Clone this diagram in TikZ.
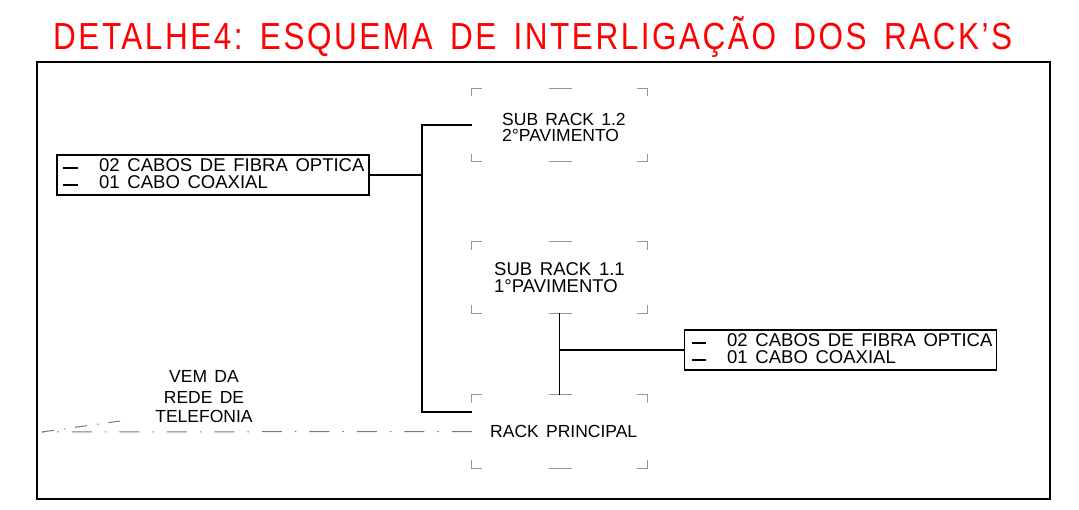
\documentclass[tikz,border=0pt]{standalone}
\usepackage{fontspec}
\setmainfont{Liberation Sans}[WordSpace=1.5]
\usetikzlibrary{calc}
\definecolor{cadred}{RGB}{255,0,0}
\definecolor{brk}{RGB}{150,150,150}
\definecolor{dd}{RGB}{120,120,120}
\tikzset{
  frame/.style={draw=black,line width=1.6pt},
  wire/.style={draw=black,line width=1.6pt},
  cablebox/.style={draw=black,line width=1.4pt,minimum width=312pt,minimum height=40pt,inner sep=0pt},
  rackbox/.style={draw=none,minimum width=175pt,minimum height=73pt,inner sep=0pt},
  brack/.style={draw=brk,line width=1.1pt},
  cadtxt/.style={inner sep=0pt,font=\fontsize{18.5}{19}\selectfont},
  dashdot/.style={draw=dd,line width=1pt,dash pattern=on 20pt off 13pt on 1.5pt off 13pt},
}
\newcommand{\cadbrackets}[1]{%
  \draw[brack] ($(#1.north west)+(0,8)$) -- (#1.north west) -- ++(10,0);
  \draw[brack] ($(#1.north east)+(0,8)$) -- (#1.north east) -- ++(-10,0);
  \draw[brack] ($(#1.south west)+(0,-8)$) -- (#1.south west) -- ++(10,0);
  \draw[brack] ($(#1.south east)+(0,-8)$) -- (#1.south east) -- ++(-10,0);
  \draw[brack] ($(#1.north)+(-11,0)$) -- ++(23,0);
  \draw[brack] ($(#1.south)+(-11,0)$) -- ++(23,0);
}
\newcommand{\wsp}{\hspace{0.55em}}
\begin{document}
\begin{tikzpicture}[x=1pt,y=-1pt]
\useasboundingbox (0,0) rectangle (1079,510);
% title
\node[anchor=base west,inner sep=0pt,text=cadred] (title) at (53,50)
  {\resizebox{959pt}{\height}{\fontsize{37.7}{38}\selectfont\addfontfeature{LetterSpace=8}DETALHE4:\wsp ESQUEMA\wsp DE\wsp INTERLIGAÇÃO\wsp DOS\wsp RACK’S}};
% frame
\draw[frame] (37,62) rectangle (1050,499);
% cable boxes
\node[cablebox] (lbox) at (213,175) {};
\node[cablebox] (rbox) at (840.5,350) {};
\draw[wire,line width=1.3pt] (63,168) -- (78,168);
\draw[wire,line width=1.3pt] (63,185) -- (78,185);
\node[cadtxt,anchor=base west] (l1) at (99,172) {02 CABOS DE FIBRA OPTICA};
\node[cadtxt,anchor=base west] (l2) at (99,189) {01 CABO COAXIAL};
\draw[wire,line width=1.3pt] (692,343) -- (706,343);
\draw[wire,line width=1.3pt] (692,360) -- (706,360);
\node[cadtxt,anchor=base west] (r1) at (727,347) {02 CABOS DE FIBRA OPTICA};
\node[cadtxt,anchor=base west] (r2) at (727,364) {01 CABO COAXIAL};
% racks
\node[rackbox] (rk12) at (559.5,125) {};
\node[rackbox,minimum height=71pt] (rk11) at (559.5,277.5) {};
\node[rackbox] (rkp) at (559.5,431.5) {};
\cadbrackets{rk12}
\cadbrackets{rk11}
\cadbrackets{rkp}
\node[cadtxt,anchor=base west,font=\fontsize{17.5}{18}\selectfont] (t12a) at (502,126) {SUB RACK 1.2};
\node[cadtxt,anchor=base west,font=\fontsize{17.5}{18}\selectfont] (t12b) at (502,141.5) {2°PAVIMENTO};
\node[cadtxt,anchor=base west] (t11a) at (494,276) {SUB RACK 1.1};
\node[cadtxt,anchor=base west] (t11b) at (494,293) {1°PAVIMENTO};
\node[cadtxt,anchor=base west,font=\fontsize{17.5}{18}\selectfont] (tp) at (490,437) {RACK PRINCIPAL};
% connectors
\coordinate (bus) at (422,175);
\coordinate (busbot) at (472,412);
\draw[wire] (lbox.east) -- (bus);
\draw[wire] (rk12.west) -| (bus) |- (busbot);
\draw[wire] (rk11.south) -- (rkp.north);
\draw[wire] (559.5,350) -- (rbox.west);
% telephone line
\coordinate (tel) at (42,432);
\coordinate (telup) at (120,421);
\draw[dashdot] (rkp.west) -- (tel);
\draw[dashdot,dash pattern=on 12pt off 10pt on 1.5pt off 10pt] (tel) -- (telup);
\node[inner sep=0pt,align=center,font=\fontsize{17.5}{20}\selectfont,anchor=base] (vem) at (204,423) {VEM DA\\REDE DE\\TELEFONIA};
\end{tikzpicture}
\end{document}
